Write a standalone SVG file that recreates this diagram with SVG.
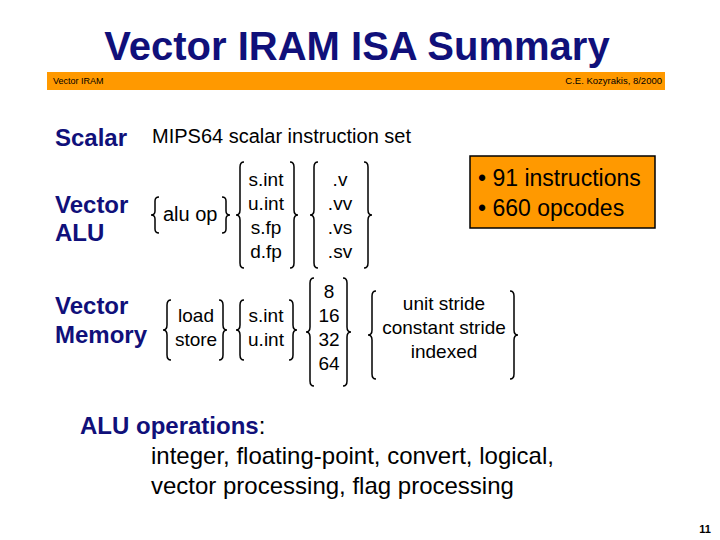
<svg xmlns="http://www.w3.org/2000/svg" width="720" height="540" viewBox="0 0 720 540">
<style>
.t{font-family:"Liberation Sans",Arial,sans-serif;fill:#000}
.h{font-family:"Liberation Sans",Arial,sans-serif;font-weight:bold;fill:#10107a}
.b{fill:none;stroke:#000;stroke-width:1.5}
.c{text-anchor:middle}
</style>
<rect width="720" height="540" fill="#fff"/>
<text class="h c" x="357" y="60" font-size="40">Vector IRAM ISA Summary</text>
<rect x="47" y="72" width="618" height="18" fill="#ff9900"/>
<text class="t" x="53" y="84" font-size="9">Vector IRAM</text>
<text class="t" x="662" y="84" font-size="9.5" text-anchor="end">C.E. Kozyrakis, 8/2000</text>

<g id="scalar">
<text class="h" x="55" y="146" font-size="24">Scalar</text>
<text class="t" x="152" y="143" font-size="20">MIPS64 scalar instruction set</text>
</g>

<g id="vector-alu">
<text class="h" x="55" y="213" font-size="24">Vector</text>
<text class="h" x="55" y="241" font-size="24">ALU</text>
<path class="b" d="M159 197Q155 197 155 201L155 211Q155 215 151 215Q155 215 155 219L155 229Q155 233 159 233"/>
<text class="t" x="163" y="221" font-size="20">alu op</text>
<path class="b" d="M222 197Q226 197 226 201L226 211Q226 215 230 215Q226 215 226 219L226 229Q226 233 222 233"/>
<path class="b" d="M244 162Q240 162 240 167L240 210Q240 215 236 215Q240 215 240 220L240 263Q240 268 244 268"/>
<text class="t c" x="266" y="186" font-size="19">s.int</text>
<text class="t c" x="266" y="210" font-size="19">u.int</text>
<text class="t c" x="266" y="234" font-size="19">s.fp</text>
<text class="t c" x="266" y="258" font-size="19">d.fp</text>
<path class="b" d="M290 162Q294 162 294 167L294 210Q294 215 298 215Q294 215 294 220L294 263Q294 268 290 268"/>
<path class="b" d="M318 162Q314 162 314 167L314 210Q314 215 310 215Q314 215 314 220L314 263Q314 268 318 268"/>
<text class="t c" x="340" y="186" font-size="19">.v</text>
<text class="t c" x="340" y="210" font-size="19">.vv</text>
<text class="t c" x="340" y="234" font-size="19">.vs</text>
<text class="t c" x="340" y="258" font-size="19">.sv</text>
<path class="b" d="M364 162Q368 162 368 167L368 210Q368 215 372 215Q368 215 368 220L368 263Q368 268 364 268"/>
</g>

<g id="counts">
<rect x="470" y="156" width="185" height="72" fill="#ff9900" stroke="#000" stroke-width="1.5"/>
<text class="t" x="478" y="186" font-size="23">• 91 instructions</text>
<text class="t" x="478" y="216" font-size="23">• 660 opcodes</text>
</g>

<g id="vector-memory">
<text class="h" x="55" y="314" font-size="24">Vector</text>
<text class="h" x="55" y="343" font-size="24">Memory</text>
<path class="b" d="M171 300Q167 300 167 305L167 325Q167 330 163 330Q167 330 167 335L167 355Q167 360 171 360"/>
<text class="t c" x="196" y="322" font-size="19">load</text>
<text class="t c" x="196" y="346" font-size="19">store</text>
<path class="b" d="M219 300Q223 300 223 305L223 325Q223 330 227 330Q223 330 223 335L223 355Q223 360 219 360"/>
<path class="b" d="M244 300Q240 300 240 305L240 325Q240 330 236 330Q240 330 240 335L240 355Q240 360 244 360"/>
<text class="t c" x="266" y="322" font-size="19">s.int</text>
<text class="t c" x="266" y="346" font-size="19">u.int</text>
<path class="b" d="M289 300Q293 300 293 305L293 325Q293 330 297 330Q293 330 293 335L293 355Q293 360 289 360"/>
<path class="b" d="M314 278Q310 278 310 283L310 327Q310 332 306 332Q310 332 310 337L310 381Q310 386 314 386"/>
<text class="t c" x="329" y="298" font-size="19">8</text>
<text class="t c" x="329" y="322" font-size="19">16</text>
<text class="t c" x="329" y="346" font-size="19">32</text>
<text class="t c" x="329" y="370" font-size="19">64</text>
<path class="b" d="M343 278Q347 278 347 283L347 327Q347 332 351 332Q347 332 347 337L347 381Q347 386 343 386"/>
<path class="b" d="M376 291Q372 291 372 296L372 330Q372 335 368 335Q372 335 372 340L372 374Q372 379 376 379"/>
<text class="t c" x="444" y="310" font-size="19">unit stride</text>
<text class="t c" x="444" y="334" font-size="19">constant stride</text>
<text class="t c" x="444" y="358" font-size="19">indexed</text>
<path class="b" d="M510 291Q514 291 514 296L514 330Q514 335 518 335Q514 335 514 340L514 374Q514 379 510 379"/>
</g>

<g id="alu-ops">
<text x="80" y="434" font-size="24" class="t"><tspan class="h">ALU operations</tspan>:</text>
<text class="t" x="151" y="464" font-size="24">integer, floating-point, convert, logical,</text>
<text class="t" x="151" y="494" font-size="24">vector processing, flag processing</text>
</g>
<text class="t" x="711" y="533" font-size="11" font-weight="bold" text-anchor="end">11</text>
</svg>
